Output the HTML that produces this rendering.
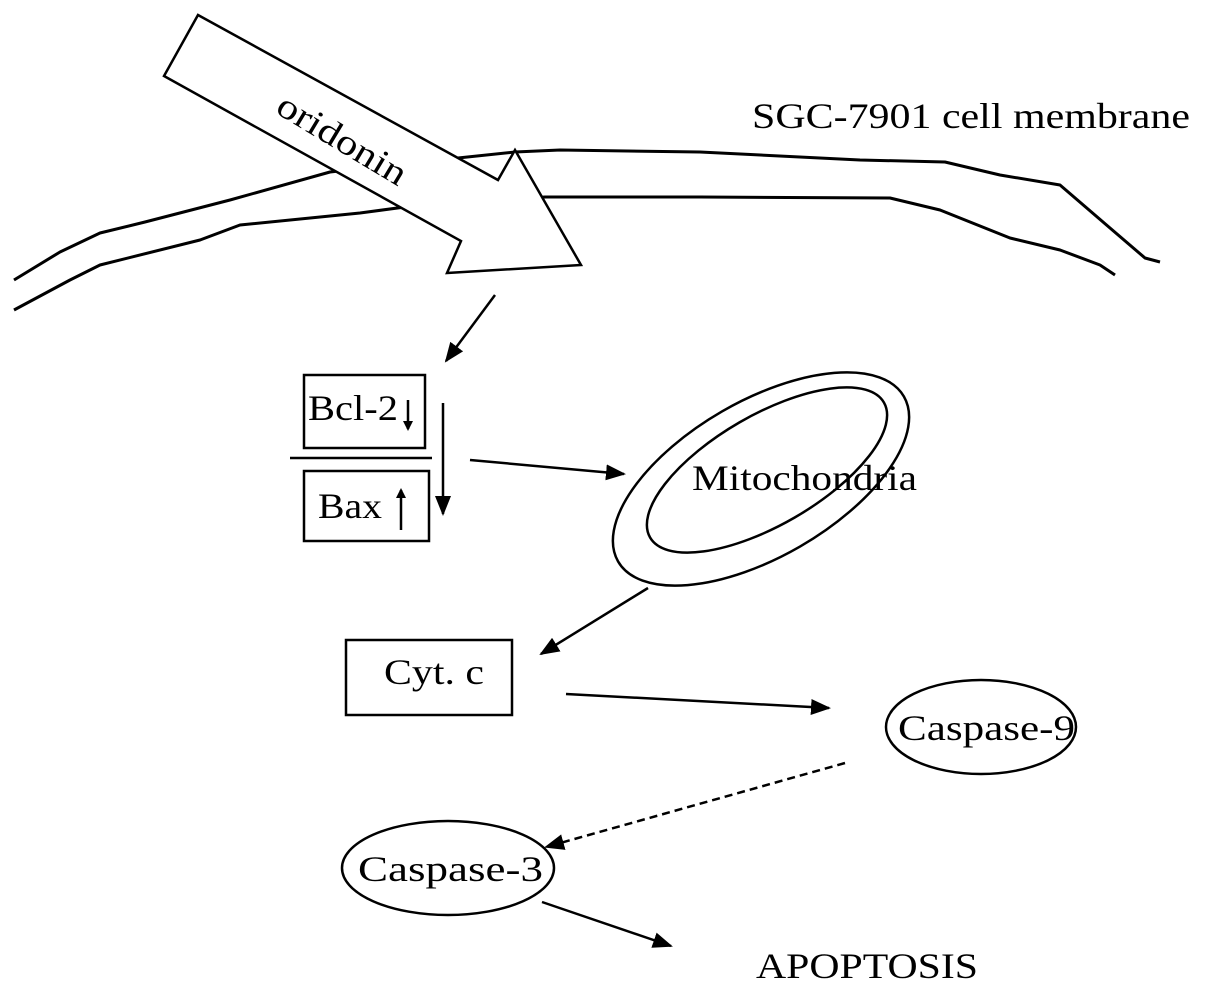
<!DOCTYPE html>
<html><head><meta charset="utf-8"><style>html,body{margin:0;padding:0;background:#fff}svg{display:block}text{font-family:"Liberation Serif",serif;fill:#000}</style></head>
<body>
<svg width="1205" height="1004" viewBox="0 0 1205 1004" xmlns="http://www.w3.org/2000/svg">
<defs>
<marker id="ah" markerWidth="10" markerHeight="10" refX="8" refY="5" orient="auto" markerUnits="userSpaceOnUse" viewBox="0 0 10 10">
<path d="M0,0 L10,5 L0,10 z" fill="#000"/></marker>
<marker id="ahb" markerWidth="20" markerHeight="16" refX="18" refY="8" orient="auto" markerUnits="userSpaceOnUse" viewBox="0 0 20 16">
<path d="M0,0 L20,8 L0,16 z" fill="#000"/></marker>
</defs>
<g fill="none" stroke="#000" stroke-width="3" stroke-linejoin="round">
<!-- membrane -->
<polyline points="14,280 60,252 100,233 145,222 230,200 330,172 420,162 515,152 560,150 700,152 860,160 945,162 1000,175 1060,185 1110,228 1145,258 1160,262"/>
<polyline points="14,310 70,280 100,265 200,240 240,225 360,213 420,205 545,197 700,197 890,198 940,210 1010,238 1060,250 1100,265 1115,275"/>
</g>
<!-- big arrow -->
<polygon points="198,15 498,180 515,150 581,265 447,273 461,241 164,76" fill="#fff" stroke="#000" stroke-width="2.5"/>
<text x="0" y="0" font-size="36" transform="translate(274,112) rotate(31)" textLength="145" lengthAdjust="spacingAndGlyphs">oridonin</text>
<text x="752" y="128" font-size="36" textLength="438" lengthAdjust="spacingAndGlyphs">SGC-7901 cell membrane</text>
<g stroke="#000" stroke-width="2.5" fill="none">
<line x1="495" y1="295" x2="446" y2="361" marker-end="url(#ahb)"/>
<rect x="304" y="375" width="121" height="73"/>
<line x1="290" y1="458" x2="432" y2="458"/>
<rect x="304" y="471" width="125" height="70"/>
<line x1="443" y1="403" x2="443" y2="514" marker-end="url(#ahb)"/>
<line x1="408" y1="400" x2="408" y2="429" marker-end="url(#ah)"/>
<line x1="401" y1="530" x2="401" y2="490" marker-end="url(#ah)"/>
<line x1="470" y1="460" x2="624" y2="474" marker-end="url(#ahb)"/>
<ellipse cx="761" cy="479" rx="165" ry="78" transform="rotate(-30 761 479)"/>
<ellipse cx="767" cy="470" rx="135" ry="55" transform="rotate(-30 767 470)"/>
<line x1="648" y1="588" x2="541" y2="654" marker-end="url(#ahb)"/>
<rect x="346" y="640" width="166" height="75"/>
<line x1="566" y1="694" x2="829" y2="708" marker-end="url(#ahb)"/>
<ellipse cx="981" cy="727" rx="95" ry="47"/>
<line x1="845" y1="763" x2="546" y2="847" stroke-dasharray="8,5" marker-end="url(#ahb)"/>
<ellipse cx="448" cy="868" rx="106" ry="47"/>
<line x1="542" y1="902" x2="671" y2="946" marker-end="url(#ahb)"/>
</g>
<text x="308" y="420" font-size="36" textLength="90" lengthAdjust="spacingAndGlyphs">Bcl-2</text>
<text x="318" y="518" font-size="36" textLength="64" lengthAdjust="spacingAndGlyphs">Bax</text>
<text x="692" y="490" font-size="36" textLength="225" lengthAdjust="spacingAndGlyphs">Mitochondria</text>
<text x="384" y="684" font-size="36" textLength="100" lengthAdjust="spacingAndGlyphs">Cyt. c</text>
<text x="898" y="740" font-size="36" textLength="177" lengthAdjust="spacingAndGlyphs">Caspase-9</text>
<text x="358" y="881" font-size="36" textLength="185" lengthAdjust="spacingAndGlyphs">Caspase-3</text>
<text x="756" y="978" font-size="36" textLength="222" lengthAdjust="spacingAndGlyphs">APOPTOSIS</text>
</svg>
</body></html>
